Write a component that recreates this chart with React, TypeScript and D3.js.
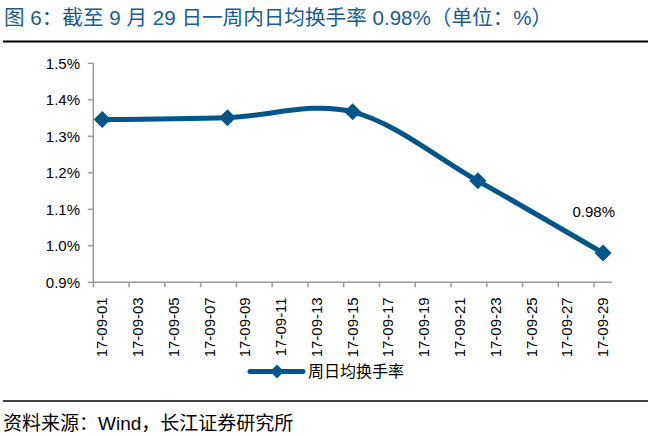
import React from "react";
import * as d3 from "d3";

const days: string[] = Array.from({ length: 29 }, (_, i) => `17-09-${String(i + 1).padStart(2, "0")}`);
const tickDays: string[] = days.filter((_, i) => i % 2 === 0);
const pointDates: string[] = ["17-09-01", "17-09-08", "17-09-15", "17-09-22", "17-09-29"];
const pointValues: number[] = [1.346, 1.351, 1.367, 1.178, 0.98];
const yTicks: number[] = [0.9, 1.0, 1.1, 1.2, 1.3, 1.4, 1.5];
const seriesName = "周日均换手率";
const titleText = "图 6：截至 9 月 29 日一周内日均换手率 0.98%（单位：%）";
const sourceText = "资料来源：Wind，长江证券研究所";

const W = 650, H = 436;
const LINE = "#00568A";
const AXIS = "#9B9B9B";
const FONT = "Arial, 'Liberation Sans', 'Noto Sans CJK SC', sans-serif";

export default function App() {
  const x = d3.scaleBand<string>().domain(days).range([93.3, 612]).padding(0);
  const y = d3.scaleLinear().domain([0.9, 1.5]).range([282.3, 63.3]);
  const cx = (d: string) => (x(d) as number) + x.bandwidth() / 2;
  const pts: [number, number][] = pointDates.map((d, i) => [cx(d), y(pointValues[i])]);
  const line = d3.line().curve(d3.curveCardinal.tension(0));
  const path = line(pts) || "";
  const diamond = (px: number, py: number, r: number) =>
    `M${px},${py - r}L${px + r},${py}L${px},${py + r}L${px - r},${py}Z`;
  const last = pts[pts.length - 1];
  const x0 = 93.3, x1 = 612, yb = y(0.9);

  return (
    <svg width={W} height={H} style={{ position: "absolute", left: 0, top: 0, display: "block" }} fontFamily={FONT}>
      <rect width={W} height={H} fill="#fff" />
      <text x={4} y={25} fontSize={20.6} fill="#1A5C8C">{titleText}</text>
      <line x1={3} x2={648} y1={41.5} y2={41.5} stroke="#000" strokeWidth={2} />

      {/* y axis */}
      <line x1={x0} x2={x0} y1={y(1.5)} y2={yb} stroke={AXIS} strokeWidth={1.6} />
      {yTicks.map((t) => (
        <g key={t}>
          <line x1={x0 - 5.5} x2={x0} y1={y(t)} y2={y(t)} stroke={AXIS} strokeWidth={1.5} />
          <text x={80} y={y(t)} dy="0.36em" textAnchor="end" fontSize={15} fill="#000">
            {t.toFixed(1)}%
          </text>
        </g>
      ))}

      {/* x axis */}
      <line x1={x0} x2={x1} y1={yb} y2={yb} stroke={AXIS} strokeWidth={1.6} />
      {tickDays.map((d) => (
        <g key={d}>
          <line x1={x(d) as number} x2={x(d) as number} y1={yb} y2={yb + 5} stroke={AXIS} strokeWidth={1.5} />
          <text
            transform={`translate(${cx(d) + 5},${yb + 15}) rotate(-90)`}
            textAnchor="end"
            fontSize={15}
            fill="#000"
          >
            {d}
          </text>
        </g>
      ))}

      {/* series */}
      <path d={path} fill="none" stroke={LINE} strokeWidth={5} strokeLinejoin="round" />
      {pts.map((p, i) => (
        <path key={i} d={diamond(p[0], p[1], 8.5)} fill={LINE} />
      ))}
      <text x={last[0] + 12} y={last[1] - 42} dy="0.36em" textAnchor="end" fontSize={15} fill="#000">
        {pointValues[pointValues.length - 1].toFixed(2)}%
      </text>

      {/* legend */}
      <line x1={250} x2={303} y1={371.5} y2={371.5} stroke={LINE} strokeWidth={5} strokeLinecap="round" />
      <path d={diamond(277, 371.5, 7)} fill={LINE} />
      <text x={308} y={371.5} dy="0.36em" fontSize={16} fill="#000">{seriesName}</text>

      {/* footer */}
      <line x1={3} x2={648} y1={401} y2={401} stroke="#000" strokeWidth={1.5} />
      <text x={3} y={423} dy="0.36em" fontSize={19} fill="#000">{sourceText}</text>
    </svg>
  );
}
